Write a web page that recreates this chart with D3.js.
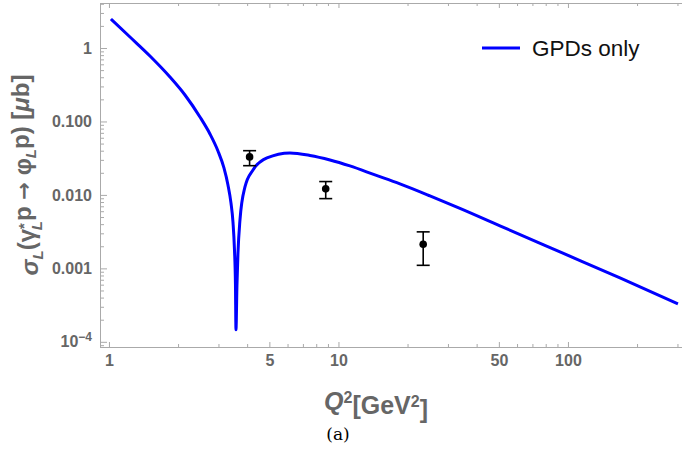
<!DOCTYPE html>
<html>
<head>
<meta charset="utf-8">
<script src="https://cdn.jsdelivr.net/npm/d3@7"></script>
<style>
body{margin:0;background:#fff}
.tick text{font-family:"Liberation Sans",Arial,sans-serif;font-weight:bold;font-size:16px;fill:#666}
</style>
</head>
<body>
<svg id="svg" width="682" height="453"></svg>
<script>
var width=+d3.select("#svg").attr("width")
var height=+d3.select("#svg").attr("height")
var svg=d3.select("#svg")

// GPD curve
var curveQ2=[1.02,1.235,1.509,1.844,2.144,2.492,2.755,2.985,3.17,3.3,3.401,3.47,3.523,3.558,3.576,3.612,3.649,3.723,3.914,4.242,4.881,6.147,7.513,9.183,11.22,14.42,18.53,25.04,33.83,50.54,92.3,168.5,301.5]
var curveSigma=[2.481,1.411,0.778,0.403,0.2294,0.1151,0.0676,0.0397,0.0233,0.01368,0.00778,0.00429,0.001785,0.000596,0.0001457,0.000596,0.001626,0.00457,0.01285,0.02188,0.03187,0.03727,0.03447,0.02993,0.02481,0.01871,0.01412,0.0097,0.00655,0.00379,0.001677,0.000743,0.000329]

// data points with error bars
var dataQ2=[4.1,8.8,23.4]
var dataSigma=[0.0329,0.0121,0.00213]
var dataLow=[0.025,0.0089,0.0011]
var dataHigh=[0.040,0.0152,0.00314]

var xTicks=[1,5,10,50,100]
var xTickLabels=["1","5","10","50","100"]
var yTicks=[1,0.1,0.01,0.001,0.0001]
var yTickLabels=["1","0.100","0.010","0.001","10-4"]

var plotLeft=100,plotRight=682,plotTop=3,plotBottom=347

var x=d3.scaleLog().domain([0.914,314]).range([plotLeft,plotRight])
var y=d3.scaleLog().domain([8.5e-5,4.1]).range([plotBottom,plotTop])

//minor ticks
var xMinor=[],yMinor=[]
;[1,10,100].forEach(dec=>{
    for(var k=2;k<=9;k++){ if(k!=5 && k*dec<314) xMinor.push(k*dec) }
})
;[1e-5,1e-4,1e-3,1e-2,1e-1,1].forEach(dec=>{
    for(var k=2;k<=9;k++){ var v=k*dec; if(v>8.5e-5 && v<4.1) yMinor.push(v) }
})

var frameColor="#aaa"

function styleAxis(g){
    g.selectAll("line").attr("stroke",frameColor)
    g.select(".domain").attr("stroke",frameColor)
}

//bottom
svg.append("g").attr("transform","translate(0,"+plotBottom+")")
    .call(d3.axisBottom(x).tickValues(xMinor).tickSize(-3).tickFormat(""))
    .call(styleAxis)
svg.append("g").attr("transform","translate(0,"+plotBottom+")")
    .call(d3.axisBottom(x).tickValues(xTicks).tickSizeInner(-5).tickSizeOuter(0).tickPadding(8).tickFormat((d,i)=>xTickLabels[i]))
    .call(styleAxis)
//top
svg.append("g").attr("transform","translate(0,"+plotTop+")")
    .call(d3.axisTop(x).tickValues(xMinor).tickSize(-3).tickFormat(""))
    .call(styleAxis)
svg.append("g").attr("transform","translate(0,"+plotTop+")")
    .call(d3.axisTop(x).tickValues(xTicks).tickSizeInner(-5).tickSizeOuter(0).tickFormat(""))
    .call(styleAxis)
//left
svg.append("g").attr("transform","translate("+plotLeft+",0)")
    .call(d3.axisLeft(y).tickValues(yMinor).tickSize(-4).tickFormat(""))
    .call(styleAxis)
var yAxis=svg.append("g").attr("transform","translate("+plotLeft+",0)")
    .call(d3.axisLeft(y).tickValues(yTicks).tickSizeInner(-7).tickSizeOuter(0).tickPadding(8).tickFormat((d,i)=>yTickLabels[i]))
    .call(styleAxis)
//superscript for 10^-4
yAxis.selectAll(".tick text").filter(d=>d==1e-4)
    .text(null)
    .call(t=>{
        t.append("tspan").text("10")
        t.append("tspan").text("−4").attr("dy","-0.5em").style("font-size","12px")
    })

//curve
svg.append("clipPath").attr("id","clip").append("rect")
    .attr("x",plotLeft).attr("y",plotTop).attr("width",plotRight-plotLeft).attr("height",plotBottom-plotTop)

var line=d3.line()
    .x(d=>x(d[0]))
    .y(d=>y(d[1]))
    .curve(d3.curveMonotoneX)

svg.append("path")
    .datum(curveQ2.map((q,i)=>[q,curveSigma[i]]))
    .attr("clip-path","url(#clip)")
    .attr("d",line)
    .attr("fill","none")
    .attr("stroke","#0000ff")
    .attr("stroke-width",3)

//error bars
var pts=svg.selectAll(".pt")
    .data(dataQ2.map((q,i)=>({q:q,s:dataSigma[i],lo:dataLow[i],hi:dataHigh[i]})))
    .enter().append("g").attr("class","pt")

pts.append("line")
    .attr("x1",d=>x(d.q)).attr("x2",d=>x(d.q))
    .attr("y1",d=>y(d.lo)).attr("y2",d=>y(d.hi))
    .attr("stroke","#000").attr("stroke-width",1.6)
pts.selectAll(".cap")
    .data(d=>[{q:d.q,v:d.lo},{q:d.q,v:d.hi}])
    .enter().append("line")
    .attr("x1",d=>x(d.q)-6.5).attr("x2",d=>x(d.q)+6.5)
    .attr("y1",d=>y(d.v)).attr("y2",d=>y(d.v))
    .attr("stroke","#000").attr("stroke-width",1.6)
pts.append("circle")
    .attr("cx",d=>x(d.q)).attr("cy",d=>y(d.s))
    .attr("r",3.8).attr("fill","#000")

//legend
var legend=svg.append("g").attr("transform","translate(482,48)")
legend.append("line").attr("x1",0).attr("x2",38).attr("stroke","#0000ff").attr("stroke-width",3)
legend.append("text").attr("x",50).attr("y",8)
    .text("GPDs only")
    .style("font-family","Liberation Sans, Arial, sans-serif")
    .style("font-size","22.5px")
    .style("fill","#111")

//axis labels
var xLab=svg.append("text")
    .attr("x",376).attr("y",410)
    .attr("text-anchor","middle")
    .style("font-family","Liberation Sans, Arial, sans-serif")
    .style("font-weight","bold").style("font-size","25px").style("fill","#666")
xLab.append("tspan").text("Q").style("font-style","italic")
xLab.append("tspan").text("2").attr("dy","-0.45em").style("font-size","16px")
xLab.append("tspan").text("[GeV").attr("dy","0.45em")
xLab.append("tspan").text("2").attr("dy","-0.45em").style("font-size","16px")
xLab.append("tspan").text("]").attr("dy","0.45em")

var yLab=svg.append("text")
    .attr("transform","translate(38,175) rotate(-90)")
    .attr("text-anchor","middle")
    .style("font-family","Liberation Sans, Arial, sans-serif")
    .style("font-weight","bold").style("font-size","24px").style("fill","#666")
yLab.append("tspan").text("σ").style("font-style","italic")
yLab.append("tspan").text("L").attr("dy","0.3em").style("font-size","15px").style("font-style","italic")
yLab.append("tspan").text("(γ").attr("dy","-0.3em")
yLab.append("tspan").text("*").attr("dy","-0.45em").style("font-size","15px")
yLab.append("tspan").text("L").attr("dx","-7").attr("dy","0.9em").style("font-size","15px").style("font-style","italic")
yLab.append("tspan").text("p ").attr("dy","-0.45em")
yLab.append("tspan").text("→").style("font-family","DejaVu Sans, sans-serif").style("font-size","21px")
yLab.append("tspan").text(" φ")
yLab.append("tspan").text("L").attr("dy","0.3em").style("font-size","15px").style("font-style","italic")
yLab.append("tspan").text("p) [").attr("dy","-0.3em")
yLab.append("tspan").text("μ").style("font-style","italic")
yLab.append("tspan").text("b]")

//caption
svg.append("text")
    .attr("x",338).attr("y",440)
    .attr("text-anchor","middle")
    .style("font-family","DejaVu Serif, Liberation Serif, serif")
    .style("font-size","17px").style("fill","#000")
    .text("(a)")
</script>
</body>
</html>
